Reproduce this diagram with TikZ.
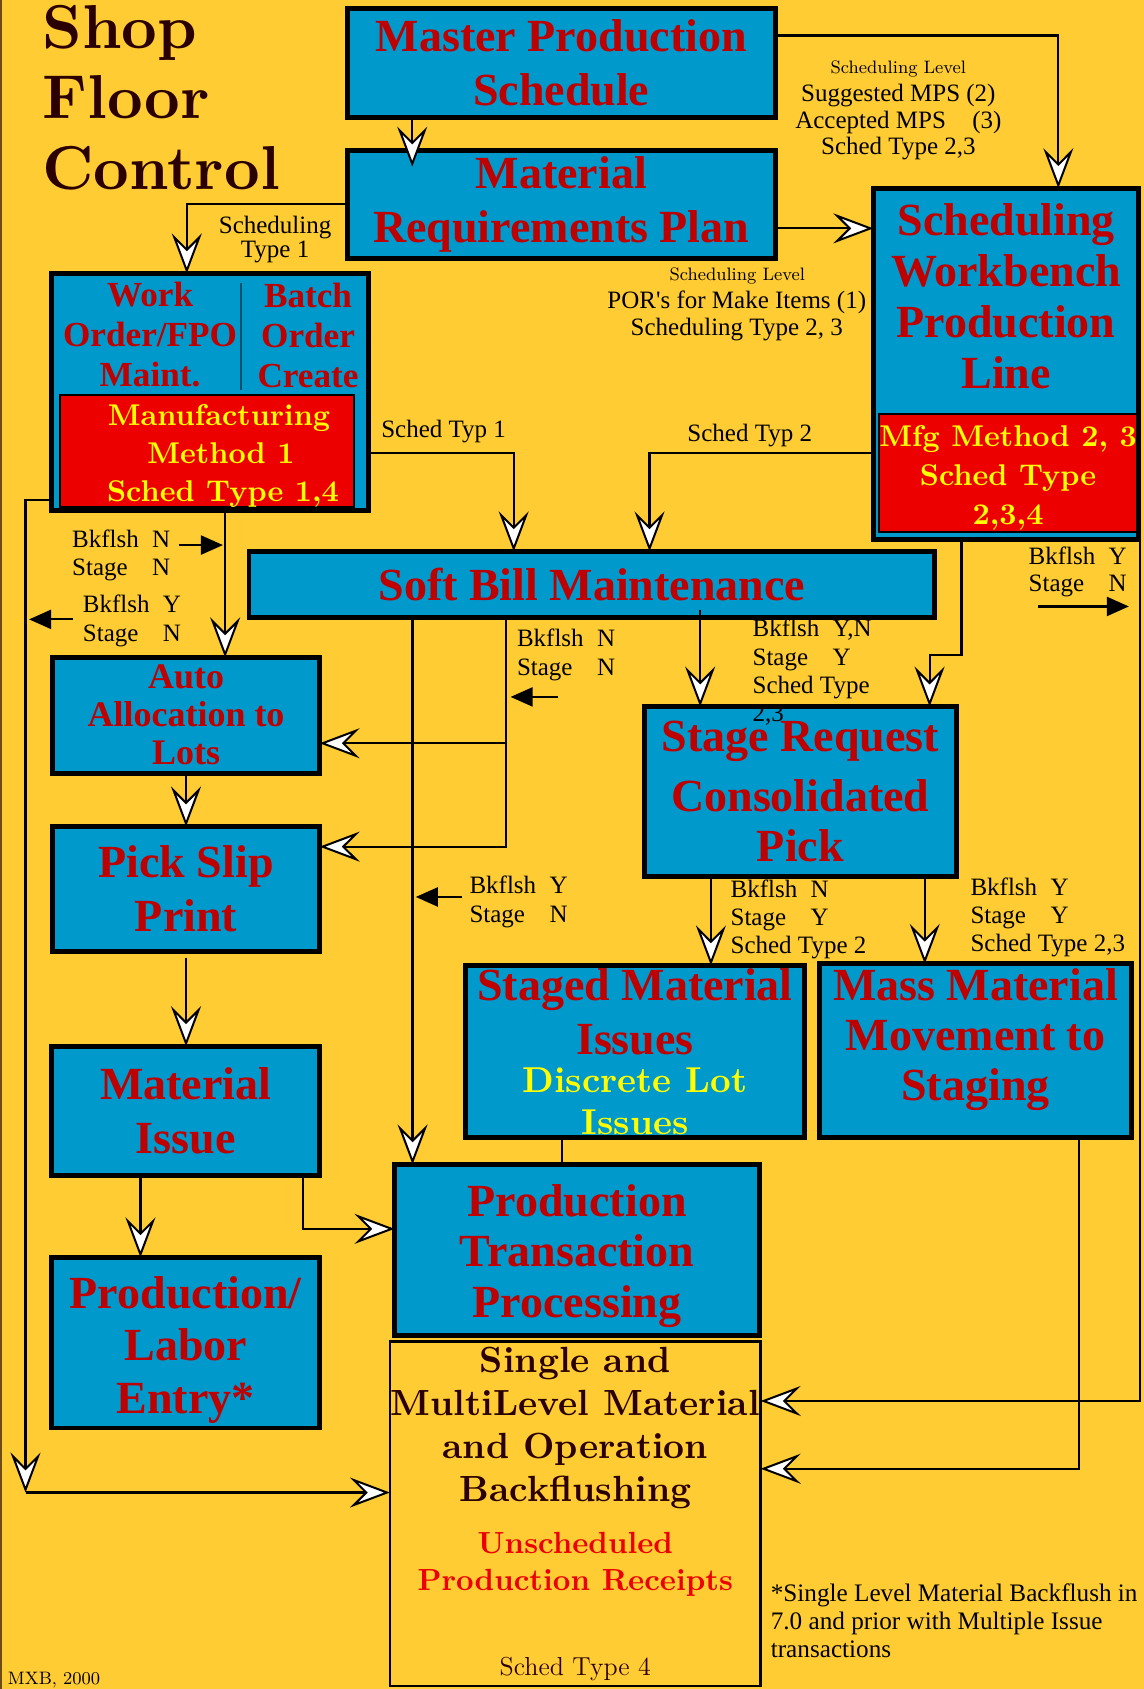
\documentclass[tikz,border=0pt]{standalone}
\usepackage{fontspec}
\newfontfamily\tnr{Liberation Serif}
\newfontfamily\lmbx{lmroman10-bold.otf}
\usetikzlibrary{arrows.meta}
\definecolor{bgc}{RGB}{255,204,51}
\definecolor{boxblue}{RGB}{0,153,204}
\definecolor{tred}{RGB}{190,0,0}
\definecolor{boxred}{RGB}{236,0,0}
\definecolor{ytxt}{RGB}{255,255,0}
\definecolor{dtxt}{RGB}{42,0,0}
\definecolor{ured}{RGB}{236,0,0}
\definecolor{divc}{RGB}{0,80,110}
\definecolor{edgec}{RGB}{110,75,20}
\newcommand{\cbf}[1]{\lmbx\fontsize{#1}{#1}\selectfont}
\newcommand{\kv}[2]{\makebox[40pt][l]{#1}#2}
\begin{document}
\begin{tikzpicture}[x=0.538606pt, y=-0.538606pt,
  sz/.style 2 args={minimum width=#1*0.538606pt, minimum height=#2*0.538606pt},
  box/.style={rectangle, draw=black, line width=2.4pt, fill=boxblue, inner sep=0pt, outer sep=0pt},
  rbox/.style={rectangle, draw=black, line width=1.1pt, fill=boxred, inner sep=0pt, outer sep=0pt, text=ytxt, align=center},
  bfbox/.style={rectangle, draw=black, line width=1.4pt, fill=bgc, inner sep=0pt, outer sep=0pt, text=dtxt, align=center},
  rt/.style={font=\tnr\bfseries\fontsize{23}{#1}\selectfont, text=tred, align=center},
  rt/.default=26.8,
  conn/.style={draw=black, line width=1.1pt},
  arr/.style={conn, -{Stealth[length=20pt, width=15pt, inset=7.5pt, fill=white, line width=1pt]}},
  sarr/.style={conn, -{Triangle[length=11pt, width=9.5pt]}},
  lbl/.style={inner sep=0pt, outer sep=0pt, anchor=base west, font=\tnr\fontsize{12.5}{14.2}\selectfont, text=black},
  small/.style={inner sep=0pt, outer sep=0pt, anchor=base, font=\normalfont\fontsize{9}{10}\selectfont, text=black},
]
\useasboundingbox (0,0) rectangle (1062,1568);
\fill[bgc] (0,0) rectangle (1062,1568);
\draw[edgec, line width=1pt] (0.9,0) -- (0.9,1568);

% title
\node[inner sep=0pt, anchor=base west, text=dtxt, font=\lmbx\fontsize{31}{35.3}\selectfont] (title) at (39,44.7)
  {\begin{tabular}[t]{@{}l@{}}Shop\\Floor\\Control\end{tabular}};

% boxes
\node[box, rt, sz={397.5}{100.5}] (mps) at (521,58.5) {Master Production\\Schedule};
\node[box, rt, sz={397.5}{99.9}] (mrp) at (521,189.8) {Material\\Requirements Plan};

\node[box, sz={246}{326}] (swb) at (933.8,337.7) {};
\node[rt=25.5, inner sep=0pt] (swbT) at (934,275.2) {Scheduling\\Workbench\\Production\\Line};
\node[rbox, sz={239.7}{109.3}, font=\lmbx\fontsize{15}{19.4}\selectfont] (swbM) at (935.85,439.35) {\rule{0pt}{15pt}Mfg Method 2, 3\\Sched Type\\2,3,4};

\node[box, sz={294.4}{220.3}] (wo) at (195,364) {};
\node[rt, inner sep=0pt, font=\tnr\bfseries\fontsize{17.6}{20}\selectfont] (woA) at (139.3,311) {Work\\Order/FPO\\Maint.};
\node[rt, inner sep=0pt, font=\tnr\bfseries\fontsize{17.6}{20}\selectfont] (woB) at (286,311) {Batch\\Order\\Create};
\draw[divc, line width=0.9pt] (223.7,262.7) -- (223.7,362);
\node[rbox, sz={272.8}{102}, font=\lmbx\fontsize{15}{19}\selectfont] (woM) at (192.2,418.7)
  {\rule{0pt}{15pt}\hspace*{12pt}Manufacturing\\\hspace*{14pt}Method 1\\\hspace*{16pt}Sched Type 1,4};

\node[box, rt, sz={636.5}{61.5}] (sb) at (549.5,542.6) {Soft Bill Maintenance};
\node[box, rt, font=\tnr\bfseries\fontsize{18}{19}\selectfont, sz={248.1}{107.5}] (auto) at (172.7,664) {Auto\\Allocation to\\Lots};
\node[box, rt=27, sz={248.1}{116.2}] (pick) at (172.7,825.35) {Pick Slip\\Print};
\node[box, rt=26.7, sz={248.7}{120.3}] (mi) at (172.4,1031.4) {Material\\Issue};
\node[box, rt=26.3, sz={248.7}{158.5}] (pl) at (172.4,1246.5) {\rule{0pt}{23pt}Production/\\Labor\\Entry*};
\node[box, rt=24.8, sz={289.5}{157.4}] (sr) at (743,734.65) {Stage Request\\[5.4pt]Consolidated\\Pick};
\node[box, rt=26.9, sz={314.5}{160}] (sm) at (589.5,976.2)
  {Staged Material\\Issues\\[-8pt]\textcolor{ytxt}{\cbf{18}Discrete Lot}\\[-5.9pt]\textcolor{ytxt}{\cbf{18}Issues}};
\node[box, rt=25, sz={289.5}{161.4}] (mm) at (905.6,975.45) {Mass Material\\Movement to\\Staging\rule[-16pt]{0pt}{0pt}};
\node[bfbox, sz={344.2}{319.9}, font=\lmbx\fontsize{18.2}{21.5}\selectfont] (bf) at (534.1,1405.25)
  {Single and\\MultiLevel Material\\and Operation\\Backflushing\\[4.9pt]\textcolor{ured}{\cbf{15.3}Unscheduled}\\[-3.2pt]\textcolor{ured}{\cbf{15.3}Production Receipts}\\[21pt]{\normalfont\fontsize{13}{13}\selectfont Sched Type 4}};
\node[box, rt=25.3, sz={339}{158.8}] (ptp) at (535.75,1160.35) {\rule{0pt}{22pt}Production\\Transaction\\Processing};

% connectors
\draw[arr, shorten >=-8pt] (382.7,0 |- mps.south) -- (382.7,0 |- mrp.north);
\draw[arr] (mps.east |- 0,33) -| (982.5,0 |- swb.north);
\draw[arr] (mrp.west |- 0,189.6) -| (173.4,0 |- wo.north);
\draw[arr] (mrp.east |- 0,212) -- (swb.west |- 0,212);
\draw[arr] (wo.east |- 0,420.4) -| (476.9,0 |- sb.north);
\draw[arr] (swb.west |- 0,420.4) -| (603,0 |- sb.north);
\coordinate (cBL) at (23.7,1385.6);
\draw[arr] (wo.west |- 0,464) -| (cBL);
\draw[arr] (cBL) -- (bf.west |- cBL);
\draw[arr] (209,0 |- wo.south) -- (209,0 |- auto.north);
\draw[arr] (172.7,0 |- auto.south) -- (172.7,0 |- pick.north);
\draw[arr, shorten <=3pt] (172.7,0 |- pick.south) -- (172.7,0 |- mi.north);
\draw[arr] (130.4,0 |- mi.south) -- (130.4,0 |- pl.north);
\draw[arr] (281,0 |- mi.south) |- (ptp.west |- 0,1140.8);
\draw[arr] (383,0 |- sb.south) -- (383,0 |- ptp.north);
\coordinate (jA) at (469.8,690);
\draw[arr] (469.8,0 |- sb.south) |- (pick.east |- 0,786);
\draw[arr] (jA) -- (auto.east |- jA);
\draw[arr, shorten <=-4pt] (650,0 |- sb.south) -- (650,0 |- sr.north);
\draw[arr] (892.7,0 |- swb.south) |- (863,608) -- (863,0 |- sr.north);
\draw[arr] (1058,0 |- swb.south) |- (bf.east |- 0,1300.6);
\draw[arr] (660,0 |- sr.south) -- (660,0 |- sm.north);
\draw[arr] (858.5,0 |- sr.south) -- (858.5,0 |- mm.north);
\draw[conn] (521.5,0 |- sm.south) -- (521.5,0 |- ptp.north);
\draw[arr] (1002,0 |- mm.south) |- (bf.east |- 0,1363.5);

% small annotation arrows
\coordinate (s1a) at (166,506);  \coordinate (s1b) at (207,506);
\coordinate (s2a) at (68,575);   \coordinate (s2b) at (27,575);
\coordinate (s3a) at (518,647);  \coordinate (s3b) at (474,647);
\coordinate (s4a) at (429,832.7); \coordinate (s4b) at (386,832.7);
\coordinate (s5a) at (964,563);  \coordinate (s5b) at (1048,563);
\draw[sarr] (s1a) -- (s1b);
\draw[sarr] (s2a) -- (s2b);
\draw[sarr] (s3a) -- (s3b);
\draw[sarr] (s4a) -- (s4b);
\draw[sarr] (s5a) -- (s5b);

% labels
\node[lbl, anchor=base] (lT1) at (255.4,217) {\fontsize{12.5}{12}\selectfont\begin{tabular}[t]{@{}c@{}}Scheduling\\Type 1\end{tabular}};
\node[small] (lvl1) at (834,68) {Scheduling Level};
\node[lbl, anchor=base] (lmps) at (834,94.5) {\fontsize{12.5}{13.25}\selectfont\begin{tabular}[t]{@{}c@{}}Suggested MPS (2)\\Accepted MPS\hspace{10pt} (3)\\Sched Type 2,3\end{tabular}};
\node[small] (lvl2) at (684.4,260) {Scheduling Level};
\node[lbl, anchor=base] (lmrp) at (684,286.8) {\fontsize{12.5}{13.4}\selectfont\begin{tabular}[t]{@{}c@{}}POR's for Make Items (1)\\Scheduling Type 2, 3\end{tabular}};
\node[lbl] (lst1) at (354,406) {Sched Typ 1};
\node[lbl, anchor=base] (lst2) at (696,409.5) {Sched Typ 2};
\node[lbl] (lbn1) at (67,508) {\begin{tabular}[t]{@{}l@{}}\kv{Bkflsh}{N}\\\kv{Stage}{N}\end{tabular}};
\node[lbl] (lby1) at (77,569) {\begin{tabular}[t]{@{}l@{}}\kv{Bkflsh}{Y}\\\kv{Stage}{N}\end{tabular}};
\node[lbl] (lbn2) at (480,600.6) {\begin{tabular}[t]{@{}l@{}}\kv{Bkflsh}{N}\\\kv{Stage}{N}\end{tabular}};
\node[lbl] (lbyn) at (698.7,591) {\begin{tabular}[t]{@{}l@{}}\kv{Bkflsh}{Y,N}\\\kv{Stage}{Y}\\Sched Type\\2,3\end{tabular}};
\node[lbl] (lby2) at (435.9,829.6) {\begin{tabular}[t]{@{}l@{}}\kv{Bkflsh}{Y}\\\kv{Stage}{N}\end{tabular}};
\node[lbl] (lby3) at (955,524.5) {\fontsize{12.5}{13.2}\selectfont\begin{tabular}[t]{@{}l@{}}\kv{Bkflsh}{Y}\\\kv{Stage}{N}\end{tabular}};
\node[lbl] (lbn3) at (678.3,832.8) {\begin{tabular}[t]{@{}l@{}}\kv{Bkflsh}{N}\\\kv{Stage}{Y}\\Sched Type 2\end{tabular}};
\node[lbl] (lby4) at (901,831) {\begin{tabular}[t]{@{}l@{}}\kv{Bkflsh}{Y}\\\kv{Stage}{Y}\\Sched Type 2,3\end{tabular}};
\node[lbl, font=\tnr\fontsize{12.6}{14}\selectfont] (fn) at (715.6,1487) {\begin{tabular}[t]{@{}l@{}}*Single Level Material Backflush in\\7.0 and prior with Multiple Issue\\transactions\end{tabular}};
\node[small, anchor=base west] (mxb) at (7.4,1563.5) {MXB, 2000};
\end{tikzpicture}
\end{document}
